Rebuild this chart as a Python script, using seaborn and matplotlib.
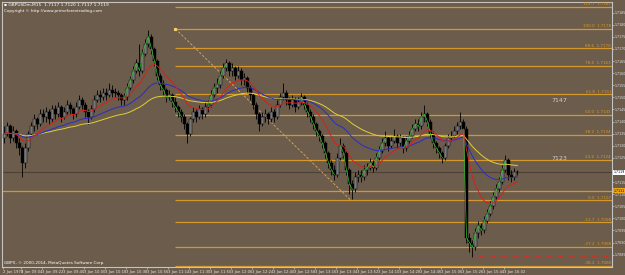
import matplotlib
matplotlib.use("Agg")
import numpy as np
import pandas as pd
import matplotlib.pyplot as plt
import seaborn as sns

# GBPUSD M15 candles, values in pips above 1.7000
first_open = 133
close = [135, 138, 133, 136, 131, 129, 123, 129, 135, 138,
         141, 139, 143, 142, 144, 141, 145, 143, 146, 142,
         144, 147, 145, 143, 146, 149, 147, 144, 142, 145,
         149, 151, 150, 152, 151, 153, 152, 152, 151, 149,
         150, 154, 157, 161, 164, 161, 168, 172, 175, 170,
         165, 159, 155, 153, 150, 151, 148, 146, 144, 142,
         139, 135, 141, 144, 142, 145, 143, 146, 147, 151,
         154, 155, 159, 162, 164, 161, 162, 159, 161, 157,
         158, 154, 151, 147, 143, 139, 142, 143, 141, 144,
         142, 147, 150, 152, 149, 147, 149, 146, 148, 150,
         147, 144, 142, 139, 136, 134, 131, 127, 123, 120,
         118, 125, 130, 127, 120, 114, 112, 117, 118, 117,
         120, 121, 123, 121, 125, 128, 131, 133, 130, 132,
         134, 131, 133, 129, 132, 134, 137, 139, 138, 142,
         143, 140, 135, 131, 129, 127, 125, 130, 133, 134,
         136, 138, 140, 137, 92, 90, 88, 94, 97, 95,
         99, 102, 105, 109, 112, 115, 120, 124, 118, 117,
         119, 119]
high = [138, 140, 139, 138, 137, 133, 130, 131, 136, 140,
        143, 142, 145, 145, 146, 145, 147, 147, 148, 147,
        146, 149, 148, 146, 148, 151, 150, 148, 145, 147,
        151, 153, 153, 154, 154, 156, 155, 154, 153, 152,
        152, 156, 159, 163, 166, 172, 170, 174, 178, 176,
        171, 166, 160, 157, 154, 153, 152, 150, 147, 145,
        143, 140, 142, 146, 145, 147, 146, 148, 149, 153,
        156, 158, 161, 164, 166, 165, 164, 163, 163, 162,
        160, 159, 155, 152, 148, 144, 144, 145, 144, 146,
        145, 149, 152, 156, 153, 150, 151, 150, 150, 152,
        151, 148, 145, 143, 140, 137, 135, 132, 128, 124,
        122, 127, 133, 131, 128, 121, 116, 119, 120, 120,
        122, 123, 125, 124, 127, 130, 133, 136, 134, 134,
        137, 135, 135, 134, 134, 136, 139, 141, 141, 144,
        147, 144, 141, 136, 132, 130, 128, 131, 135, 136,
        138, 140, 144, 141, 138, 94, 91, 96, 99, 98,
        101, 104, 107, 111, 114, 117, 122, 126, 125, 120,
        121, 120]
low = [131, 134, 131, 132, 129, 126, 117, 121, 128, 134,
       136, 137, 138, 140, 140, 139, 140, 141, 142, 140,
       141, 143, 143, 141, 142, 145, 145, 142, 139, 141,
       144, 148, 148, 149, 149, 150, 150, 150, 149, 147,
       147, 149, 153, 156, 160, 159, 160, 167, 171, 168,
       163, 157, 153, 151, 148, 149, 146, 144, 142, 140,
       137, 131, 134, 140, 140, 141, 141, 142, 144, 146,
       150, 152, 154, 158, 161, 159, 159, 157, 158, 155,
       155, 152, 149, 145, 141, 136, 138, 140, 139, 140,
       140, 141, 146, 149, 147, 145, 146, 144, 145, 147,
       145, 142, 140, 137, 134, 132, 129, 125, 121, 118,
       116, 117, 124, 125, 118, 110, 108, 111, 115, 115,
       116, 118, 120, 119, 120, 124, 127, 130, 128, 129,
       131, 129, 130, 127, 128, 131, 133, 136, 136, 137,
       140, 138, 133, 129, 127, 125, 123, 124, 129, 132,
       133, 135, 137, 135, 90, 86, 84, 87, 92, 93,
       94, 98, 101, 104, 108, 111, 114, 119, 116, 115,
       116, 118]

# stretches of the green close line
green_runs = [(40, 48), (48, 59), (68, 74), (99, 110), (112, 116), (119, 127),
              (133, 140), (140, 146), (153, 167)]

time_labels = ["2 Jan 1970", "3 Jan 09:04", "3 Jan 09:22", "3 Jan 09:40", "3 Jan 10:00",
               "3 Jan 10:18", "3 Jan 10:38", "3 Jan 10:56", "3 Jan 11:14", "3 Jan 11:30",
               "3 Jan 11:50", "3 Jan 12:06", "3 Jan 12:24", "3 Jan 12:40", "3 Jan 12:58",
               "3 Jan 13:16", "3 Jan 13:34", "3 Jan 13:52", "3 Jan 14:10", "3 Jan 14:28",
               "3 Jan 14:46", "3 Jan 15:06", "3 Jan 15:26", "3 Jan 15:44", "3 Jan 16:02"]
price_ticks = list(range(85, 190, 5))

# fibonacci retracement (pips) and its levels
fib_high, fib_low = 178.3, 107.4
fib_x0, fib_x1 = 57, 115.5
fib_levels = [112.7, 100.0, 88.6, 78.6, 61.8, 50.0, 38.2, 23.6, 0.0, -12.7, -27.2, -38.2]

# red dotted high/low lines and their start bars
hl_levels = [147, 144.3, 123, 84.5]
hl_start = [141, 152, 146, 156]
hl_marks = ["7147", "7123"]
hl_mark_y = [147, 123]

hline_level = 111.5

bg = "#6b5c4c"
fibc = "#d4982c"

sns.set_theme(style="white")
plt.rcParams["font.family"] = ["DejaVu Sans"]

fig = plt.figure(figsize=(6.25, 2.75), dpi=100, facecolor=bg)
ax = fig.add_axes([2 / 625, 8 / 275, 610 / 625, 265 / 275])
ax.set_facecolor(bg)

n = len(close)
idx = np.arange(n)
opens = [first_open] + close[:-1]

# moving averages
s = pd.Series(close, dtype=float)
ma_red = s.ewm(span=12, adjust=False).mean()
ma_blue = s.ewm(span=30, adjust=False).mean()
ma_yel = s.ewm(span=55, adjust=False).mean()

# horizontal objects
for lv in fib_levels:
    p = fib_low + lv / 100 * (fib_high - fib_low)
    ax.hlines(p, fib_x0, 203, color=fibc, lw=0.9, zorder=1)
    ax.text(202.2, p + 0.3, f"{lv:.1f}  {1.7 + p / 1e4:.4f}", color=fibc, fontsize=3,
            ha="right", va="bottom", zorder=5)
ax.axhline(hline_level, color=fibc, lw=0.9, zorder=1)
ax.axhline(close[-1], color="#4d4135", lw=0.8, zorder=1)
for lv, st in zip(hl_levels, hl_start):
    ax.hlines(lv, st, 203, color="#e02a1a", lw=0.7, linestyles=(0, (1, 1.5)), zorder=2)
for t, y in zip(hl_marks, hl_mark_y):
    ax.text(185, y + 0.8, t, color="#cfcfcf", fontsize=4.5, ha="center", va="bottom")

ax.plot([fib_x0, fib_x1], [fib_high, fib_low], color="#e2aa5c", lw=0.6,
        ls=(0, (3, 2)), zorder=2)
ax.plot([fib_x0], [fib_high], marker="s", ms=1.3, color="#f3d070", zorder=3)

# candles
for i in range(n):
    o, c = opens[i], close[i]
    ax.vlines(i, low[i], high[i], color="black", lw=0.6, zorder=3)
    fc = "#777777" if c > o else "black"
    ax.bar(i, max(abs(c - o), 0.35), bottom=min(o, c), width=0.7, color=fc,
           edgecolor="black", linewidth=0.3, zorder=4)

sns.lineplot(x=idx, y=ma_yel.values, ax=ax, color="#e0cf3a", lw=0.7, zorder=5)
sns.lineplot(x=idx, y=ma_blue.values, ax=ax, color="#2c2cc8", lw=0.7, zorder=5)
sns.lineplot(x=idx, y=ma_red.values, ax=ax, color="#d82020", lw=0.7, zorder=5)
for a, b in green_runs:
    sns.lineplot(x=idx[a:b + 1], y=np.array(close[a:b + 1]), ax=ax, color="#2cc82c",
                 lw=0.5, zorder=6)

ax.set_xlim(-0.83, 202.5)
ax.set_ylim(79.9, 189.4)

# axes and ticks (the 1.7120 label sits under the price tag)
ax.yaxis.tick_right()
ax.set_yticks(price_ticks, ["" if v == 120 else f"{1.7 + v / 1e4:.4f}" for v in price_ticks])
xpos = [-0.6] + [5.5 + 7 * k for k in range(len(time_labels) - 1)]
ax.set_xticks(xpos, time_labels)
for lab in ax.get_xticklabels():
    lab.set_ha("left")
ax.tick_params(axis="x", length=1.5, width=0.5, color="#c8c8c8", labelsize=2.7,
               labelcolor="#e4e4e4", pad=0.8, direction="out", bottom=True)
ax.tick_params(axis="y", length=1.5, width=0.5, color="#c8c8c8", labelsize=2.3,
               labelcolor="#e4e4e4", pad=0.5, direction="out", right=True, left=False)
for sp in ax.spines.values():
    sp.set_color("#c4c4c4")
    sp.set_linewidth(0.8)
ax.set_xlabel("")
ax.set_ylabel("")
ax.grid(False)

# price tags on the axis
ax.text(203.0, close[-1], f"{1.7 + close[-1] / 1e4:.4f}", fontsize=2.3, color="black",
        va="center", ha="left", bbox=dict(boxstyle="square,pad=0.15", fc="white", ec="none"),
        clip_on=False)
ax.text(203.0, hline_level, f"{1.7 + hline_level / 1e4:.4f}", fontsize=2.3, color="black",
        va="center", ha="left", bbox=dict(boxstyle="square,pad=0.15", fc="#f0a818", ec="none"),
        clip_on=False)

fig.text(0.006, 0.982, "\u25aa GBPUSDm,M15  1.7117 1.7120 1.7117 1.7119", color="white",
         fontsize=3.2, va="center")
fig.text(0.006, 0.96, "Copyright \u00a9 http://www.primeforextrading.com", color="white",
         fontsize=3, va="center")
fig.text(0.006, 0.045, "GBPX, \u00a9 2000-2014, MetaQuotes Software Corp.", color="white",
         fontsize=3, va="center")

fig.savefig("out.png", dpi=100, facecolor=bg)
